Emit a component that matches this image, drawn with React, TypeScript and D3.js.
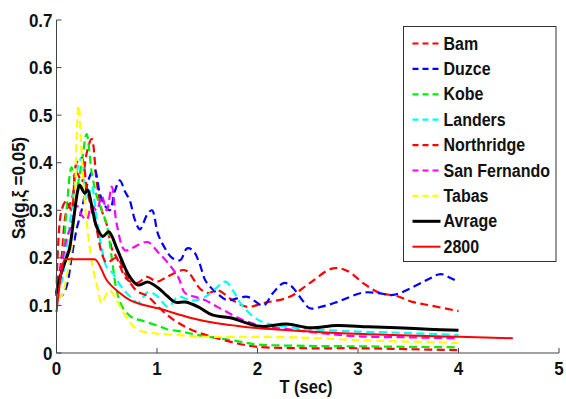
import React from "react";
import * as d3 from "d3";

// Response spectra (Sa in g, 5% damping) against period T (sec)
const bamT = [0, 0.05, 0.1, 0.15, 0.2, 0.25, 0.3, 0.35, 0.4, 0.45, 0.5, 0.55, 0.6, 0.7, 0.8, 0.9, 1.0, 1.1, 1.28, 1.43, 1.51, 1.6, 1.76, 1.9, 2.06, 2.32, 2.52, 2.75, 2.9, 3.05, 3.22, 3.38, 3.55, 3.72, 4.0];
const bamSa = [0.12, 0.2, 0.3, 0.32, 0.38, 0.36, 0.42, 0.45, 0.36, 0.3, 0.27, 0.22, 0.2, 0.155, 0.147, 0.16, 0.15, 0.16, 0.174, 0.135, 0.126, 0.132, 0.11, 0.097, 0.105, 0.118, 0.147, 0.178, 0.172, 0.147, 0.126, 0.12, 0.107, 0.1, 0.088];

const duzceT = [0, 0.05, 0.1, 0.15, 0.2, 0.25, 0.3, 0.35, 0.38, 0.43, 0.48, 0.53, 0.58, 0.63, 0.68, 0.73, 0.78, 0.83, 0.9, 0.95, 1.01, 1.08, 1.15, 1.23, 1.3, 1.36, 1.42, 1.48, 1.53, 1.6, 1.7, 1.8, 1.9, 2.06, 2.15, 2.26, 2.33, 2.45, 2.52, 2.65, 2.79, 3.05, 3.2, 3.35, 3.55, 3.7, 3.82, 3.9, 4.0];
const duzceSa = [0.12, 0.12, 0.14, 0.2, 0.26, 0.3, 0.35, 0.38, 0.385, 0.336, 0.31, 0.3, 0.34, 0.363, 0.34, 0.32, 0.28, 0.26, 0.29, 0.3, 0.25, 0.22, 0.2, 0.195, 0.22, 0.215, 0.19, 0.153, 0.139, 0.125, 0.111, 0.115, 0.118, 0.1, 0.125, 0.147, 0.142, 0.11, 0.094, 0.098, 0.107, 0.127, 0.126, 0.122, 0.139, 0.155, 0.166, 0.16, 0.149];

const kobeT = [0, 0.05, 0.1, 0.15, 0.2, 0.25, 0.3, 0.35, 0.4, 0.45, 0.5, 0.55, 0.6, 0.66, 0.75, 0.85, 1.0, 1.1, 1.25, 1.4, 1.58, 1.8, 2.0, 2.5, 3.0, 3.5, 4.0];
const kobeSa = [0.12, 0.17, 0.3, 0.39, 0.35, 0.4, 0.46, 0.38, 0.33, 0.3, 0.27, 0.2, 0.13, 0.095, 0.075, 0.068, 0.058, 0.05, 0.045, 0.038, 0.032, 0.025, 0.018, 0.015, 0.014, 0.013, 0.012];

const landersT = [0, 0.05, 0.1, 0.15, 0.2, 0.25, 0.3, 0.35, 0.4, 0.45, 0.5, 0.56, 0.6, 0.68, 0.75, 0.81, 0.91, 1.0, 1.11, 1.21, 1.35, 1.48, 1.58, 1.68, 1.76, 1.83, 1.96, 2.09, 2.3, 2.5, 2.8, 3.0, 3.5, 4.0];
const landersSa = [0.12, 0.15, 0.22, 0.3, 0.38, 0.41, 0.32, 0.35, 0.28, 0.22, 0.18, 0.168, 0.153, 0.13, 0.115, 0.105, 0.128, 0.12, 0.097, 0.118, 0.11, 0.118, 0.135, 0.15, 0.13, 0.105, 0.076, 0.062, 0.055, 0.05, 0.047, 0.045, 0.042, 0.038];

const northridgeT = [0, 0.05, 0.1, 0.15, 0.2, 0.25, 0.3, 0.35, 0.4, 0.45, 0.5, 0.6, 0.7, 0.8, 0.9, 1.0, 1.1, 1.2, 1.35, 1.55, 1.8, 2.0, 2.5, 3.0, 3.5, 4.0];
const northridgeSa = [0.12, 0.3, 0.32, 0.3, 0.4, 0.41, 0.35, 0.3, 0.26, 0.21, 0.19, 0.2, 0.16, 0.13, 0.12, 0.1, 0.08, 0.065, 0.048, 0.034, 0.02, 0.013, 0.01, 0.01, 0.008, 0.006];

const sanFernandoT = [0, 0.05, 0.1, 0.15, 0.2, 0.25, 0.3, 0.35, 0.4, 0.45, 0.5, 0.55, 0.6, 0.68, 0.75, 0.81, 0.91, 1.01, 1.11, 1.21, 1.28, 1.38, 1.48, 1.6, 1.86, 2.06, 2.3, 2.62, 3.0, 3.5, 4.0];
const sanFernandoSa = [0.12, 0.18, 0.24, 0.27, 0.31, 0.29, 0.28, 0.31, 0.3, 0.33, 0.3, 0.35, 0.27, 0.216, 0.22, 0.227, 0.233, 0.212, 0.189, 0.16, 0.126, 0.118, 0.111, 0.097, 0.069, 0.056, 0.05, 0.042, 0.035, 0.033, 0.031];

const tabasT = [0, 0.05, 0.1, 0.15, 0.18, 0.2, 0.22, 0.25, 0.28, 0.32, 0.36, 0.4, 0.45, 0.5, 0.53, 0.6, 0.7, 0.8, 0.95, 1.2, 1.4, 1.6, 2.0, 2.5, 3.0, 3.5, 4.0];
const tabasSa = [0.12, 0.12, 0.16, 0.22, 0.3, 0.45, 0.52, 0.42, 0.32, 0.24, 0.18, 0.145, 0.105, 0.125, 0.132, 0.11, 0.074, 0.05, 0.042, 0.038, 0.034, 0.034, 0.034, 0.032, 0.027, 0.024, 0.021];

const averageT = [0, 0.05, 0.1, 0.13, 0.17, 0.21, 0.23, 0.28, 0.31, 0.35, 0.4, 0.46, 0.52, 0.6, 0.68, 0.73, 0.81, 0.91, 1.01, 1.1, 1.18, 1.28, 1.41, 1.55, 1.73, 2.02, 2.29, 2.52, 2.79, 3.1, 3.39, 3.7, 4.0];
const averageSa = [0.125, 0.17, 0.2, 0.22, 0.28, 0.34, 0.353, 0.336, 0.342, 0.31, 0.265, 0.245, 0.255, 0.22, 0.18, 0.16, 0.143, 0.149, 0.137, 0.12, 0.107, 0.107, 0.097, 0.08, 0.074, 0.056, 0.061, 0.053, 0.058, 0.055, 0.053, 0.05, 0.048];

// Design spectrum, Iranian code 2800
const codeT = [0, 0.085, 0.38, 0.5, 0.63, 0.73, 0.85, 1.01, 1.2, 1.35, 1.58, 1.8, 2.02, 2.4, 2.79, 3.2, 3.6, 4.01, 4.54];
const codeSa = [0.086, 0.197, 0.197, 0.153, 0.126, 0.111, 0.102, 0.094, 0.082, 0.073, 0.063, 0.057, 0.052, 0.047, 0.042, 0.039, 0.036, 0.034, 0.031];

const xTicks = [0, 1, 2, 3, 4, 5];
const yTicks = [0, 0.1, 0.2, 0.3, 0.4, 0.5, 0.6, 0.7];

type Series = {
  name: string;
  t: number[];
  sa: number[];
  color: string;
  dashed: boolean;
  width: number;
  curve: d3.CurveFactory;
};

const smooth = d3.curveCatmullRom.alpha(0.5);

const series: Series[] = [
  { name: "Bam", t: bamT, sa: bamSa, color: "#ff0000", dashed: true, width: 2.2, curve: smooth },
  { name: "Duzce", t: duzceT, sa: duzceSa, color: "#0000ff", dashed: true, width: 2.2, curve: smooth },
  { name: "Kobe", t: kobeT, sa: kobeSa, color: "#00ee00", dashed: true, width: 2.2, curve: smooth },
  { name: "Landers", t: landersT, sa: landersSa, color: "#00ffff", dashed: true, width: 2.2, curve: smooth },
  { name: "Northridge", t: northridgeT, sa: northridgeSa, color: "#ff0000", dashed: true, width: 2.2, curve: smooth },
  { name: "San Fernando", t: sanFernandoT, sa: sanFernandoSa, color: "#ff00ff", dashed: true, width: 2.2, curve: smooth },
  { name: "Tabas", t: tabasT, sa: tabasSa, color: "#ffff00", dashed: true, width: 2.2, curve: smooth },
  { name: "Avrage", t: averageT, sa: averageSa, color: "#000000", dashed: false, width: 3, curve: smooth },
  { name: "2800", t: codeT, sa: codeSa, color: "#ff0000", dashed: false, width: 2, curve: d3.curveMonotoneX },
];

const W = 566;
const H = 399;
const left = 56.5;
const right = 559;
const top = 20;
const bottom = 353;

const font = "'Liberation Sans', Arial, Helvetica, sans-serif";

export default function App() {
  const x = d3.scaleLinear().domain([0, 5]).range([left, right]);
  const y = d3.scaleLinear().domain([0, 0.7]).range([bottom, top]);

  const pathFor = (s: Series) =>
    d3
      .line<[number, number]>()
      .x((d) => x(d[0]))
      .y((d) => y(d[1]))
      .curve(s.curve)(s.t.map((t, i) => [t, s.sa[i]] as [number, number])) || "";

  const legendX = 403.5;
  const legendY = 26.5;
  const rowH = 25.4;

  return (
    <svg
      width={W}
      height={H}
      style={{ position: "absolute", left: 0, top: 0, background: "#fff" }}
      fontFamily={font}
    >
      <rect x={0} y={0} width={W} height={H} fill="#fff" />
      {series.map((s) => (
        <path
          key={s.name}
          d={pathFor(s)}
          fill="none"
          stroke={s.color}
          strokeWidth={s.width}
          strokeDasharray={s.dashed ? "8 4.5" : undefined}
          strokeLinejoin="round"
        />
      ))}

      {/* axes */}
      <line x1={left} x2={left} y1={top} y2={bottom} stroke="#444" strokeWidth={1} />
      <line x1={left} x2={right} y1={bottom} y2={bottom} stroke="#444" strokeWidth={1} />
      {yTicks.map((v) => (
        <g key={"y" + v}>
          <line x1={left} x2={left + 5} y1={y(v)} y2={y(v)} stroke="#444" />
          <text
            transform={`translate(${left - 4},${y(v) + 6.5}) scale(1,1.12)`}
            textAnchor="end"
            fontSize={17}
            fontWeight="bold"
            fill="#111"
          >
            {v === 0 ? "0" : v.toFixed(1)}
          </text>
        </g>
      ))}
      {xTicks.map((v) => (
        <g key={"x" + v}>
          <line x1={x(v)} x2={x(v)} y1={bottom} y2={bottom - 5} stroke="#444" />
          <text
            transform={`translate(${x(v)},${bottom + 22}) scale(1,1.12)`}
            textAnchor="middle"
            fontSize={17}
            fontWeight="bold"
            fill="#111"
          >
            {v}
          </text>
        </g>
      ))}
      <text
        transform={`translate(306,393) scale(1,1.1)`}
        textAnchor="middle"
        fontSize={16.5}
        fontWeight="bold"
        fill="#111"
      >
        T (sec)
      </text>
      <text
        transform={`translate(25,188) rotate(-90) scale(1,1.1)`}
        textAnchor="middle"
        fontSize={17}
        fontWeight="bold"
        fill="#111"
      >
        Sa(g,ξ =0.05)
      </text>

      {/* legend */}
      <rect
        x={legendX}
        y={legendY}
        width={152.5}
        height={235}
        fill="#fff"
        stroke="#333"
        strokeWidth={1}
      />
      {series.map((s, i) => {
        const cy = legendY + 17 + i * rowH;
        return (
          <g key={"lg" + s.name}>
            <line
              x1={legendX + 9}
              x2={legendX + 37}
              y1={cy}
              y2={cy}
              stroke={s.color}
              strokeWidth={s.width}
              strokeDasharray={s.dashed ? "6 4" : undefined}
            />
            <text
              transform={`translate(${legendX + 40},${cy + 6}) scale(1,1.1)`}
              fontSize={16}
              fontWeight="bold"
              fill="#111"
            >
              {s.name}
            </text>
          </g>
        );
      })}
    </svg>
  );
}
